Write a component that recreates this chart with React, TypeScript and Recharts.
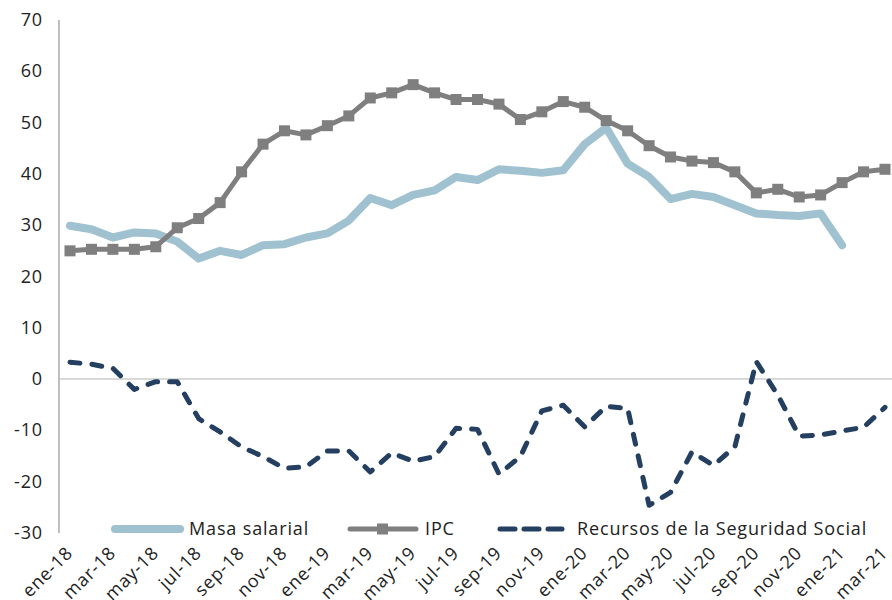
import React from 'react';
import { LineChart, Line, XAxis, YAxis, ReferenceLine, Legend } from 'recharts';

const months: string[] = [
  'ene-18','feb-18','mar-18','abr-18','may-18','jun-18','jul-18','ago-18','sep-18','oct-18','nov-18','dic-18',
  'ene-19','feb-19','mar-19','abr-19','may-19','jun-19','jul-19','ago-19','sep-19','oct-19','nov-19','dic-19',
  'ene-20','feb-20','mar-20','abr-20','may-20','jun-20','jul-20','ago-20','sep-20','oct-20','nov-20','dic-20',
  'ene-21','feb-21','mar-21',
];

const masaSalarial: (number | null)[] = [
  29.9, 29.2, 27.6, 28.6, 28.4, 26.8, 23.5, 25.0, 24.2, 26.1, 26.3, 27.6,
  28.4, 30.9, 35.3, 33.9, 35.9, 36.8, 39.4, 38.8, 40.9, 40.6, 40.2, 40.7,
  45.8, 49.0, 42.0, 39.4, 35.1, 36.1, 35.5, 33.9, 32.3, 32.0, 31.8, 32.3,
  26.1, null, null,
];

const ipc: number[] = [
  25.0, 25.3, 25.3, 25.3, 25.8, 29.5, 31.3, 34.4, 40.4, 45.8, 48.4, 47.6,
  49.4, 51.3, 54.8, 55.8, 57.4, 55.8, 54.5, 54.5, 53.6, 50.6, 52.1, 54.1,
  53.0, 50.4, 48.4, 45.5, 43.3, 42.5, 42.2, 40.4, 36.3, 37.0, 35.5, 35.9,
  38.3, 40.4, 40.9,
];

const recursos: number[] = [
  3.3, 2.9, 2.1, -2.0, -0.5, -0.5, -7.7, -10.3, -13.2, -15.1, -17.4, -17.1,
  -14.0, -14.0, -18.1, -14.4, -16.0, -15.1, -9.6, -9.8, -18.5, -15.1, -6.2, -5.1,
  -9.3, -5.3, -5.7, -24.6, -22.1, -14.2, -16.8, -13.2, 3.4, -3.1, -11.1, -10.9,
  -10.1, -9.4, -5.5,
];

const yTicks: number[] = [-30, -20, -10, 0, 10, 20, 30, 40, 50, 60, 70];

const seriesNames = ['Masa salarial', 'IPC', 'Recursos de la Seguridad Social'];

const data = months.map((m, i) => ({
  m,
  masa: masaSalarial[i],
  ipc: ipc[i],
  rec: recursos[i],
}));

const FONT = '"Open Sans", sans-serif';
const TEXT = '#222222';
const LS = 0.85;
const C_MASA = '#a0c1cf';
const C_IPC = '#7f7f7f';
const C_REC = '#243f60';

const XTick = (props: any) => {
  const { x, y, payload } = props;
  return (
    <text
      transform={`translate(${x + 4},${y + 21}) rotate(-45)`}
      textAnchor="end"
      fontSize={18}
      fontFamily={FONT}
      fill={TEXT}
      style={{ letterSpacing: LS }}
    >
      {payload.value}
    </text>
  );
};

const YTick = (props: any) => {
  const { x, y, payload } = props;
  return (
    <text x={x} y={y} dy={6} textAnchor="end" fontSize={18} fontFamily={FONT} fill={TEXT} style={{ letterSpacing: LS }}>
      {payload.value}
    </text>
  );
};

const SquareDot = (props: any) => {
  const { cx, cy, index } = props;
  if (cx == null || cy == null) return <g key={`sq-${index}`} />;
  return <rect key={`sq-${index}`} x={cx - 5.5} y={cy - 5.5} width={11} height={11} fill={C_IPC} />;
};

const LegendContent = () => (
  <svg width={892} height={600} style={{ position: 'absolute', left: 0, top: 0 }}>
    <line x1={115} y1={529} x2={180} y2={529} stroke={C_MASA} strokeWidth={8} strokeLinecap="round" />
    <text x={189} y={535} fontSize={18} fontFamily={FONT} fill={TEXT} style={{ letterSpacing: LS }}>{seriesNames[0]}</text>
    <line x1={350} y1={529} x2={416} y2={529} stroke={C_IPC} strokeWidth={5} strokeLinecap="round" />
    <rect x={377} y={523.5} width={11} height={11} fill={C_IPC} />
    <text x={425} y={535} fontSize={18} fontFamily={FONT} fill={TEXT} style={{ letterSpacing: LS }}>{seriesNames[1]}</text>
    <line x1={500} y1={529} x2={562} y2={529} stroke={C_REC} strokeWidth={5} strokeLinecap="round" strokeDasharray="15 9" />
    <text x={577} y={535} fontSize={18} fontFamily={FONT} fill={TEXT} style={{ letterSpacing: LS }}>{seriesNames[2]}</text>
  </svg>
);

export default function App() {
  return (
    <div style={{ position: 'absolute', left: 0, top: 0, width: 892, height: 600, background: '#fff' }}>
      <LineChart width={892} height={600} data={data} margin={{ top: 20, right: 0, bottom: 0, left: 0 }}>
        <XAxis
          dataKey="m"
          interval={1}
          tickLine={false}
          axisLine={false}
          tickSize={0}
          tickMargin={0}
          height={67}
          padding={{ left: 11, right: 7 }}
          tick={<XTick />}
        />
        <YAxis
          domain={[-30, 70]}
          ticks={yTicks}
          interval={0}
          width={59}
          tickLine={false}
          tickSize={0}
          tickMargin={16}
          axisLine={{ stroke: '#bfbfbf', strokeWidth: 2 }}
          tick={<YTick />}
        />
        <ReferenceLine y={0} stroke="#d9d9d9" strokeWidth={2} />
        <Line
          dataKey="masa"
          name={seriesNames[0]}
          stroke={C_MASA}
          strokeWidth={8}
          strokeLinecap="round"
          strokeLinejoin="round"
          dot={false}
          isAnimationActive={false}
        />
        <Line
          dataKey="ipc"
          name={seriesNames[1]}
          stroke={C_IPC}
          strokeWidth={5}
          strokeLinejoin="round"
          dot={<SquareDot />}
          isAnimationActive={false}
        />
        <Line
          dataKey="rec"
          name={seriesNames[2]}
          stroke={C_REC}
          strokeWidth={5}
          strokeDasharray="10 12"
          strokeLinecap="round"
          strokeLinejoin="round"
          dot={false}
          isAnimationActive={false}
        />
        <Legend
          layout="horizontal"
          verticalAlign="middle"
          align="center"
          wrapperStyle={{ position: 'absolute', left: 0, top: 0, width: 892, height: 600, pointerEvents: 'none' }}
          content={<LegendContent />}
        />
      </LineChart>
    </div>
  );
}
